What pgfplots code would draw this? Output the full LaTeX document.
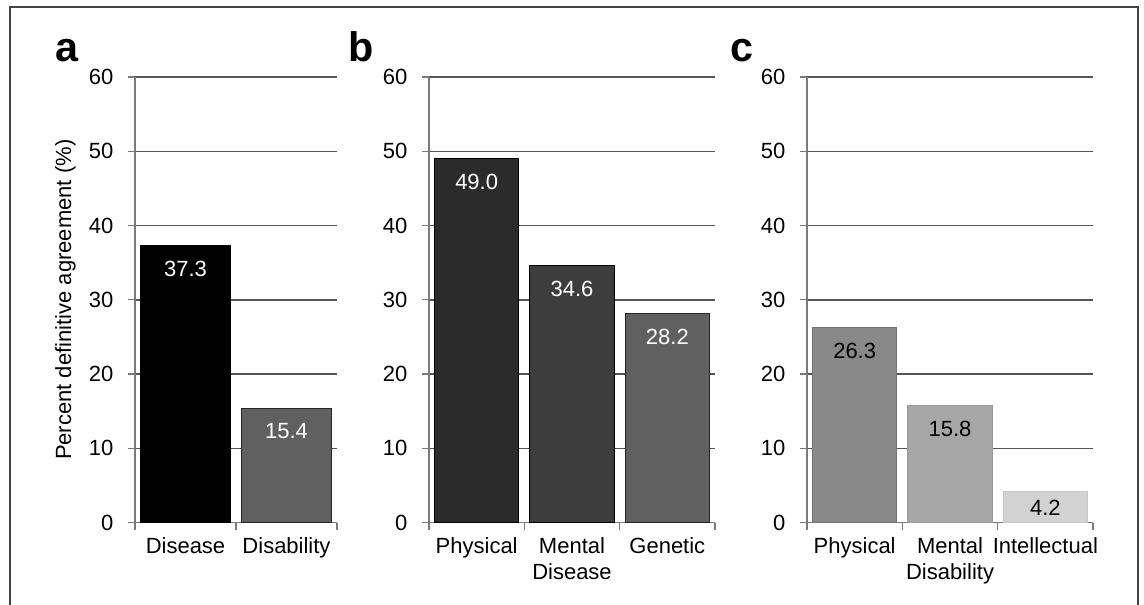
\documentclass[border=0pt]{standalone}
\usepackage{fontspec}
\setmainfont{Liberation Sans}
\usepackage{pgfplots}
\pgfplotsset{compat=1.18}

\definecolor{gridc}{HTML}{555555}
\definecolor{axc}{HTML}{7A7A7A}
\definecolor{frm}{HTML}{444444}
\definecolor{ca1}{HTML}{000000}
\definecolor{ca2}{HTML}{606060}
\definecolor{cb1}{HTML}{2B2B2B}
\definecolor{cb2}{HTML}{3D3D3D}
\definecolor{cb3}{HTML}{606060}
\definecolor{cc1}{HTML}{898989}
\definecolor{cc2}{HTML}{A7A7A7}
\definecolor{cc3}{HTML}{D2D2D2}

\pgfplotsset{
  panel/.style={
    scale only axis,
    height=334.2pt,
    ymin=0, ymax=60, ytick={0,10,...,60},
    ymajorgrids,
    grid style={gridc, line width=1.1pt},
    axis lines*=left,
    axis line style={axc, line width=1.3pt},
    tick align=outside,
    major tick length=5.25pt,
    tick style={axc, line width=1pt},
    xticklabels={},
    extra x tick style={major tick length=0pt},
    /pgf/number format/assume math mode=true,
    tick label style={font=\fontsize{16.5}{19.5}\selectfont},
    xticklabel style={align=center, anchor=north, yshift=-8pt},
    yticklabel style={xshift=-7.5pt},
    nodes near coords={\pgfmathprintnumber[fixed,fixed zerofill,precision=1]{\pgfplotspointmeta}},
    every node near coord/.append style={anchor=north, inner sep=0pt, yshift=-11.25pt,
       font=\fontsize{16.5}{19.5}\selectfont},
    clip=false,
  },
  bar/.style={ybar, bar shift=0pt, bar width=0.885, line width=0.8pt},
}

\begin{document}
\begin{tikzpicture}
\useasboundingbox (0,0) rectangle (858pt,453.75pt);
\draw[frm, line width=1.1pt] (7.5pt,-5pt) rectangle (853.5pt,448.5pt);

% panel a
\begin{axis}[panel, at={(101.25pt,61.8pt)}, anchor=south west, width=151.5pt,
  xmin=-0.5, xmax=1.5, xtick={-0.5,0.5,1.5},
  extra x ticks={0,1}, extra x tick labels={Disease,Disability},
  ylabel={Percent definitive agreement (\%)},
  ylabel style={font=\fontsize{16.5}{19.5}\selectfont, yshift=3pt}]
\addplot[bar, fill=ca1, draw=black, nodes near coords style={text=white}] coordinates {(0,37.3)};
\addplot[bar, fill=ca2, draw=black!85, nodes near coords style={text=white}] coordinates {(1,15.4)};
\end{axis}
\node[anchor=base west, font=\fontsize{31}{36}\bfseries\selectfont, inner sep=0pt] at (41.5pt,407.25pt) {a};

% panel b
\begin{axis}[panel, at={(321.75pt,61.8pt)}, anchor=south west, width=214.5pt,
  xmin=-0.5, xmax=2.5, xtick={-0.5,0.5,1.5,2.5},
  extra x ticks={0,1,2}, extra x tick labels={Physical,Mental\\Disease,Genetic}]
\addplot[bar, fill=cb1, draw=black, nodes near coords style={text=white}] coordinates {(0,49.0)};
\addplot[bar, fill=cb2, draw=black, nodes near coords style={text=white}] coordinates {(1,34.6)};
\addplot[bar, fill=cb3, draw=black!85, nodes near coords style={text=white}] coordinates {(2,28.2)};
\end{axis}
\node[anchor=base west, font=\fontsize{31}{36}\bfseries\selectfont, inner sep=0pt] at (261.5pt,407.25pt) {b};

% panel c
\begin{axis}[panel, at={(605.25pt,61.8pt)}, anchor=south west, width=214.5pt,
  xmin=-0.5, xmax=2.5, xtick={-0.5,0.5,1.5,2.5},
  extra x ticks={0,1,2}, extra x tick labels={Physical,Mental\\Disability,Intellectual}]
\addplot[bar, fill=cc1, draw=black!55, nodes near coords style={text=black}] coordinates {(0,26.3)};
\addplot[bar, fill=cc2, draw=black!40, nodes near coords style={text=black}] coordinates {(1,15.8)};
\addplot[bar, fill=cc3, draw=black!22, nodes near coords style={text=black, yshift=5.25pt}] coordinates {(2,4.2)};
\end{axis}
\node[anchor=base west, font=\fontsize{31}{36}\bfseries\selectfont, inner sep=0pt] at (547.5pt,407.25pt) {c};
\end{tikzpicture}
\end{document}
